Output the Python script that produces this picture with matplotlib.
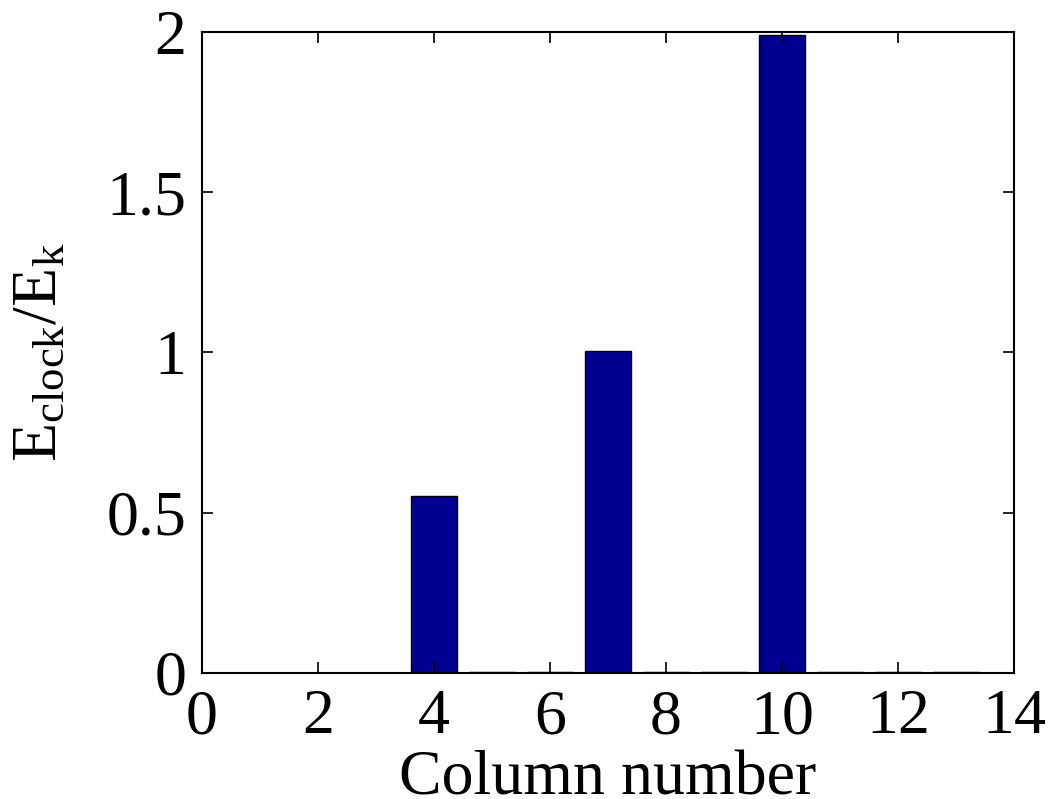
import matplotlib
matplotlib.use("Agg")
import matplotlib.pyplot as plt

columns = list(range(1, 14))
energy_ratio = [0.0, 0.0, 0.0005, 0.552, 0.003, 0.003, 1.005, 0.002, 0.002, 1.99, 0.003, 0.003, 0.003]
xticks = [0, 2, 4, 6, 8, 10, 12, 14]
yticks = [0, 0.5, 1, 1.5, 2]
ytick_labels = ["0", "0.5", "1", "1.5", "2"]

plt.rcParams["font.family"] = "Liberation Serif"
plt.rcParams["mathtext.fontset"] = "custom"
plt.rcParams["mathtext.rm"] = "Liberation Serif"
plt.rcParams["mathtext.it"] = "Liberation Serif:italic"

fig = plt.figure(figsize=(10.51, 7.99), dpi=100)
ax = fig.add_axes([0.192, 0.158, 0.773, 0.802])

ax.bar(columns, energy_ratio, width=0.8, color="#000090", edgecolor="black", linewidth=1.0)

ax.set_xlim(0, 14)
ax.set_ylim(0, 2)
ax.set_xticks(xticks)
ax.set_yticks(yticks)
ax.set_yticklabels(ytick_labels)
ax.tick_params(direction="in", length=8, width=1.2, top=True, right=True,
               labelsize=46)
ax.tick_params(axis="x", pad=12)
ax.tick_params(axis="y", pad=11)
for s in ax.spines.values():
    s.set_linewidth(1.5)

ax.set_xlabel("Column number", fontsize=46, labelpad=2)
ax.set_ylabel(r"$\mathrm{E_{clock}/E_k}$", fontsize=46, labelpad=26)

fig.savefig("out.png", dpi=100)
